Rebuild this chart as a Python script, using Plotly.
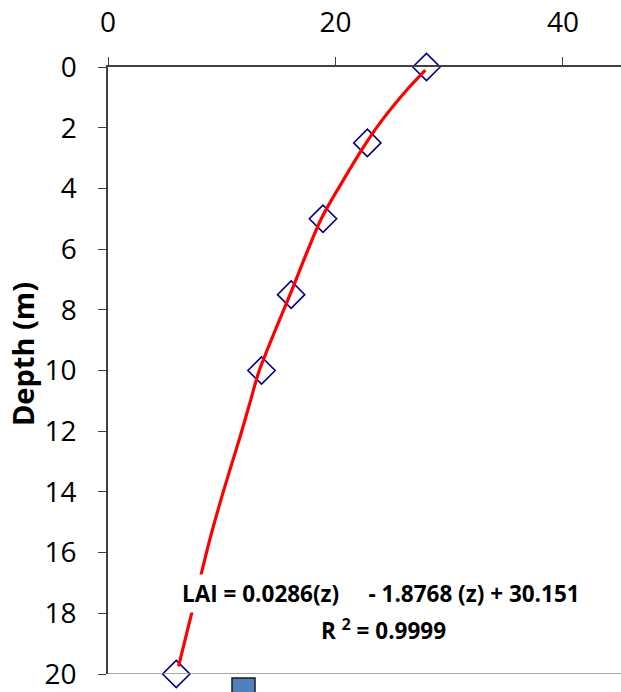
import plotly.graph_objects as go

# Observed leaf area index by depth
depth_obs = [0, 2.5, 5, 7.5, 10, 20]
lai_obs = [28.0, 22.8, 18.9, 16.1, 13.5, 6.0]

# Polynomial trend line through the observations
depth_fit = [0.1, 0.7, 1.8, 2.5, 3.75, 5.0, 7.5, 10.0, 11.1, 12.2, 13.85, 15.5, 16.7, 17.9, 19.75]
lai_fit = [27.9, 26.4, 24.0, 22.7, 20.65, 18.75, 16.0, 13.3, 12.45, 11.6, 10.25, 9.0, 8.2, 7.42, 6.2]

x_ticks = [0, 20, 40]
y_ticks = list(range(0, 21, 2))

FONT = "Open Sans"
AXIS_COLOR = "#404040"

fig = go.Figure()

fig.add_trace(go.Scatter(
    x=lai_obs, y=depth_obs, mode="markers",
    marker=dict(symbol="diamond-open", size=21, color="#000080",
                line=dict(color="#000080", width=1.6)),
    cliponaxis=False, showlegend=False,
))

fig.add_trace(go.Scatter(
    x=lai_fit, y=depth_fit, mode="lines",
    line=dict(color="#ff0000", width=3.2, shape="spline", smoothing=0.8),
    showlegend=False, hoverinfo="skip",
))

# Trend line equation and goodness of fit
fig.add_annotation(
    x=24.0, y=17.35, xref="x", yref="y", showarrow=False,
    text="LAI = 0.0286(z)\u00a0\u00a0\u00a0\u00a0 - 1.8768 (z) + 30.151",
    font=dict(family=FONT, size=22.5, color="black", weight=700),
    bgcolor="white", borderpad=3,
)
fig.add_annotation(
    x=24.2, y=18.55, xref="x", yref="y", showarrow=False,
    text="R <sup>2</sup> = 0.9999",
    font=dict(family=FONT, size=22.5, color="black", weight=700),
)

# Axis title for depth
fig.add_annotation(
    x=(22 - 108) / 513, y=(678 - 356) / 611, xref="paper", yref="paper", showarrow=False,
    xanchor="center", yanchor="middle",
    text="Depth (m)", textangle=-90,
    font=dict(family=FONT, size=29, color="black", weight=700),
)

# Bottom border of the plot area
fig.add_shape(type="line", xref="paper", yref="y", x0=0, x1=1, y0=20, y1=20,
              line=dict(color="#8c8c8c", width=1.5))

# Legend key below the plot area
fig.add_shape(type="rect", xref="paper", yref="paper", xsizemode="pixel", ysizemode="pixel",
              xanchor=(243.5 - 108) / 513, yanchor=0, x0=-11.5, x1=11.5, y0=-4, y1=-30,
              fillcolor="#4f81bd", line=dict(color="#1a1a1a", width=1.5), layer="above")

fig.update_layout(
    width=621, height=692,
    margin=dict(l=108, r=0, t=67, b=14),
    plot_bgcolor="white", paper_bgcolor="white",
    font=dict(family=FONT, color="black"),
    xaxis=dict(
        side="top", range=[0, 45.1], tickvals=x_ticks,
        showgrid=False, zeroline=False,
        showline=True, linecolor=AXIS_COLOR, linewidth=1.5,
        ticks="outside", ticklen=8, tickcolor=AXIS_COLOR, tickwidth=1.2,
        tickfont=dict(family=FONT, size=28, color="black"),
        ticklabelstandoff=14, ticklabeloverflow="allow",
    ),
    yaxis=dict(
        range=[20, 0], tickvals=y_ticks,
        showgrid=False, zeroline=False,
        showline=True, linecolor=AXIS_COLOR, linewidth=1.5,
        ticks="outside", ticklen=8, tickcolor=AXIS_COLOR, tickwidth=1.2,
        tickfont=dict(family=FONT, size=28, color="black"),
        ticklabelstandoff=16, ticklabeloverflow="allow",
    ),
)

fig.write_html("out.html")
